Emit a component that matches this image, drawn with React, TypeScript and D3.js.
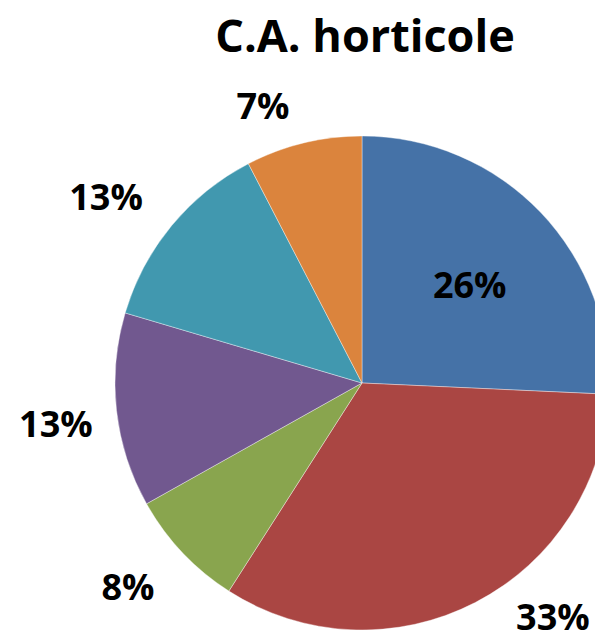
import React, { useEffect } from "react";
import * as d3 from "d3";

const categories = ["A", "B", "C", "D", "E", "F"];
const values = [25.7, 33.3, 7.8, 12.7, 12.8, 7.6];
const valueLabels = ["26%", "33%", "8%", "13%", "13%", "7%"];
const colors = ["#4572A7", "#AA4643", "#89A54E", "#71588F", "#4198AF", "#DB843D"];
const title = "C.A. horticole";

// label placement (layout): angle in degrees clockwise from top, radius in px
const labelLayout = [
  { a: 48, r: 145 },
  { a: 140.8, r: 302 },
  { a: 228.8, r: 311 },
  { a: 262.2, r: 309 },
  { a: 305.9, r: 316 },
  { a: 340.3, r: 294 },
];

const W = 595;
const H = 632;
const cx = 362;
const cy = 383;
const R = 247;
const FONT = "'Open Sans', 'Liberation Sans', sans-serif";

export default function App() {
  useEffect(() => {
    document.body.style.margin = "0";
  }, []);

  const pie = d3
    .pie<number>()
    .sort(null)
    .value((d) => d)
    .startAngle(0)
    .endAngle(2 * Math.PI);
  const arcs = pie(values);
  const arc = d3.arc<d3.PieArcDatum<number>>().innerRadius(0).outerRadius(R);

  return (
    <svg width={W} height={H} style={{ display: "block" }}>
      <rect width={W} height={H} fill="#ffffff" />
      <text
        x={365}
        y={52}
        textAnchor="middle"
        fontFamily={FONT}
        fontWeight={700}
        fontSize={45}
        fill="#000"
      >
        {title}
      </text>
      <g transform={`translate(${cx},${cy})`}>
        {arcs.map((a, i) => (
          <path
            key={categories[i]}
            d={arc(a) || ""}
            fill={colors[i]}
            stroke="#ffffff"
            strokeOpacity={0.5}
            strokeWidth={0.75}
          />
        ))}
        {arcs.map((a, i) => {
          const L = labelLayout[i];
          const t = (L.a * Math.PI) / 180;
          const x = L.r * Math.sin(t);
          const y = -L.r * Math.cos(t);
          return (
            <text
              key={"l" + i}
              x={x}
              y={y + 12.5}
              textAnchor="middle"
              fontFamily={FONT}
              fontWeight={700}
              fontSize={36}
              fill="#000"
            >
              {valueLabels[i]}
            </text>
          );
        })}
      </g>
    </svg>
  );
}
